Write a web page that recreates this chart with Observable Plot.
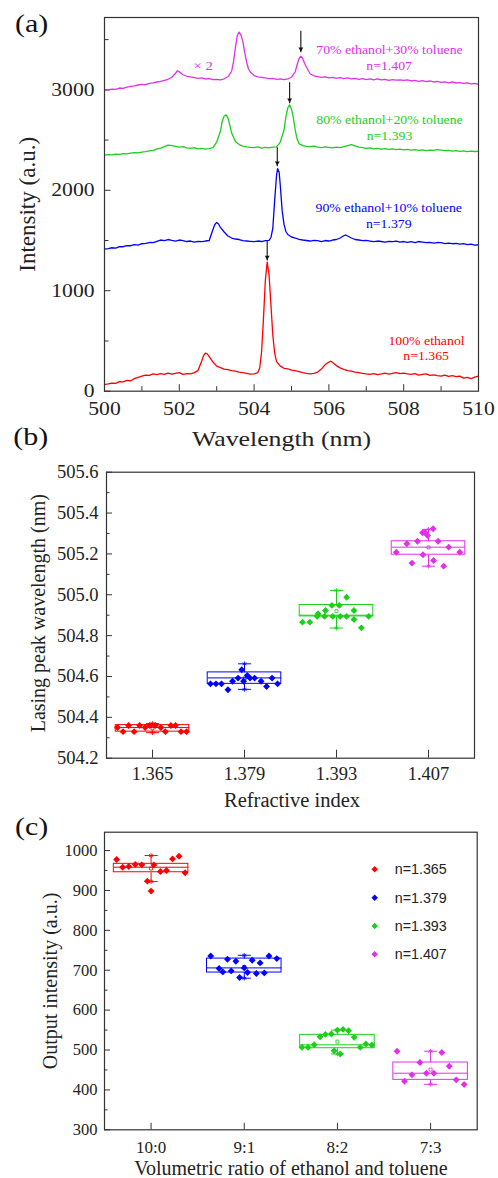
<!DOCTYPE html>
<html><head><meta charset="utf-8">
<script src="https://cdn.jsdelivr.net/npm/d3@7"></script>
<script src="https://cdn.jsdelivr.net/npm/@observablehq/plot@0.6"></script>
<style>
html,body{margin:0;padding:0;background:#fff;}
#wrap{position:relative;width:498px;height:1178px;overflow:hidden;background:#fff;}
</style></head><body><div id="wrap"></div>
<script>
// ---------------- DATA ----------------
const seriesColors = ["#ff0000", "#0000ff", "#1ccf1c", "#e030e8"];
const refractiveIndex = ["1.365", "1.379", "1.393", "1.407"];
const ratioLabels = ["10:0", "9:1", "8:2", "7:3"];

// Panel (a): spectra [wavelength nm, intensity a.u.]
const specRed = [[500.0,65],[500.1,72],[500.2,80],[500.3,78],[500.4,95],[500.5,92],[500.6,108],[500.7,104],[500.8,125],[500.9,138],
[501.0,150],[501.1,160],[501.2,158],[501.3,172],[501.4,165],[501.5,175],[501.6,168],[501.7,180],[501.8,170],[501.9,178],
[502.0,185],[502.1,168],[502.2,175],[502.3,172],[502.4,185],[502.5,205],[502.6,300],[502.65,355],[502.7,380],[502.75,370],
[502.8,345],[502.9,290],[503.0,250],[503.1,235],[503.2,220],[503.3,215],[503.4,205],[503.5,200],[503.6,190],[503.7,185],
[503.8,178],[503.9,170],[504.0,172],[504.1,185],[504.15,230],[504.2,390],[504.25,720],[504.3,1100],[504.35,1285],[504.4,1160],
[504.45,860],[504.5,560],[504.55,380],[504.6,295],[504.7,250],[504.8,228],[504.9,222],[505.0,210],[505.1,205],[505.2,195],
[505.3,185],[505.4,178],[505.5,172],[505.6,178],[505.7,190],[505.8,220],[505.9,265],[506.0,290],[506.05,298],[506.1,285],
[506.2,255],[506.3,232],[506.4,218],[506.5,205],[506.6,200],[506.7,190],[506.8,185],[506.9,178],[507.0,172],[507.1,168],
[507.2,175],[507.3,165],[507.4,172],[507.5,180],[507.6,170],[507.7,178],[507.8,185],[507.9,175],[508.0,180],[508.1,172],
[508.2,168],[508.3,175],[508.4,160],[508.5,168],[508.6,172],[508.7,158],[508.8,162],[508.9,155],[509.0,150],[509.1,160],
[509.2,148],[509.3,155],[509.4,145],[509.5,150],[509.6,130],[509.7,138],[509.8,125],[509.9,140],[510.0,150]];

const specBlue = [[500.0,1415],[500.1,1420],[500.2,1428],[500.3,1425],[500.4,1440],[500.5,1438],[500.6,1450],[500.7,1448],[500.8,1460],[500.9,1455],
[501.0,1468],[501.1,1472],[501.2,1480],[501.3,1478],[501.4,1492],[501.5,1505],[501.6,1498],[501.7,1510],[501.8,1502],[501.9,1495],
[502.0,1505],[502.1,1498],[502.2,1490],[502.3,1495],[502.4,1485],[502.5,1492],[502.6,1488],[502.7,1495],[502.8,1500],[502.9,1610],
[502.95,1660],[503.0,1680],[503.05,1665],[503.1,1630],[503.2,1585],[503.3,1545],[503.4,1525],[503.5,1515],[503.6,1510],[503.7,1498],
[503.8,1495],[503.9,1492],[504.0,1488],[504.1,1495],[504.2,1490],[504.3,1498],[504.4,1502],[504.45,1530],[504.5,1620],[504.55,1900],
[504.6,2150],[504.63,2215],[504.67,2180],[504.7,2050],[504.75,1800],[504.8,1660],[504.85,1590],[504.9,1560],[505.0,1535],[505.1,1525],
[505.2,1512],[505.3,1505],[505.4,1500],[505.5,1495],[505.6,1502],[505.7,1498],[505.8,1490],[505.9,1500],[506.0,1495],[506.1,1505],
[506.2,1510],[506.3,1525],[506.4,1548],[506.45,1555],[506.5,1545],[506.6,1525],[506.7,1510],[506.8,1505],[506.9,1498],[507.0,1502],
[507.1,1495],[507.2,1488],[507.3,1495],[507.4,1490],[507.5,1485],[507.6,1492],[507.7,1488],[507.8,1495],[507.9,1485],[508.0,1490],
[508.1,1482],[508.2,1488],[508.3,1480],[508.4,1490],[508.5,1485],[508.6,1478],[508.7,1482],[508.8,1475],[508.9,1480],[509.0,1478],
[509.1,1470],[509.2,1475],[509.3,1468],[509.4,1472],[509.5,1465],[509.6,1470],[509.7,1460],[509.8,1465],[509.9,1455],[510.0,1458]];

const specGreen = [[500.0,2350],[500.1,2355],[500.2,2352],[500.3,2360],[500.4,2358],[500.5,2365],[500.6,2362],[500.7,2370],[500.8,2375],[500.9,2372],
[501.0,2380],[501.1,2385],[501.2,2392],[501.3,2398],[501.4,2410],[501.5,2420],[501.6,2435],[501.7,2450],[501.8,2445],[501.9,2438],
[502.0,2430],[502.1,2435],[502.2,2422],[502.3,2418],[502.4,2425],[502.5,2412],[502.6,2418],[502.7,2410],[502.8,2415],[502.9,2425],
[503.0,2480],[503.1,2590],[503.15,2690],[503.2,2740],[503.25,2750],[503.3,2720],[503.35,2650],[503.4,2570],[503.5,2485],[503.6,2455],
[503.7,2440],[503.8,2432],[503.9,2428],[504.0,2425],[504.1,2432],[504.2,2420],[504.3,2428],[504.4,2422],[504.5,2430],[504.6,2432],
[504.7,2480],[504.8,2600],[504.85,2730],[504.9,2820],[504.95,2850],[505.0,2810],[505.05,2720],[505.1,2600],[505.15,2510],[505.2,2465],
[505.3,2445],[505.4,2438],[505.5,2435],[505.6,2440],[505.7,2430],[505.8,2425],[505.9,2432],[506.0,2428],[506.1,2422],[506.2,2430],
[506.3,2425],[506.4,2435],[506.5,2445],[506.6,2455],[506.7,2442],[506.8,2430],[506.9,2425],[507.0,2418],[507.1,2422],[507.2,2412],
[507.3,2418],[507.4,2410],[507.5,2415],[507.6,2408],[507.7,2412],[507.8,2405],[507.9,2410],[508.0,2402],[508.1,2408],[508.2,2400],
[508.3,2405],[508.4,2398],[508.5,2402],[508.6,2395],[508.7,2400],[508.8,2398],[508.9,2405],[509.0,2400],[509.1,2395],[509.2,2398],
[509.3,2390],[509.4,2395],[509.5,2388],[509.6,2392],[509.7,2385],[509.8,2390],[509.9,2386],[510.0,2388]];

const specMagenta = [[500.0,2995],[500.1,3000],[500.2,3008],[500.3,3005],[500.4,3018],[500.5,3015],[500.6,3028],[500.7,3035],[500.8,3040],[500.9,3048],
[501.0,3055],[501.1,3052],[501.2,3065],[501.3,3070],[501.4,3078],[501.5,3085],[501.6,3095],[501.7,3105],[501.8,3125],[501.9,3165],
[501.95,3190],[502.0,3180],[502.1,3150],[502.2,3135],[502.3,3128],[502.4,3122],[502.5,3115],[502.6,3118],[502.7,3108],[502.8,3112],
[502.9,3102],[503.0,3105],[503.1,3098],[503.2,3110],[503.3,3130],[503.4,3185],[503.45,3280],[503.5,3420],[503.55,3540],[503.6,3575],
[503.65,3545],[503.7,3480],[503.75,3370],[503.8,3275],[503.85,3210],[503.9,3175],[504.0,3142],[504.1,3130],[504.2,3125],[504.3,3118],
[504.4,3112],[504.5,3115],[504.6,3105],[504.7,3110],[504.8,3102],[504.9,3108],[505.0,3125],[505.1,3180],[505.15,3250],[505.2,3310],
[505.25,3335],[505.3,3310],[505.35,3265],[505.4,3225],[505.5,3160],[505.6,3140],[505.7,3132],[505.8,3125],[505.9,3130],[506.0,3120],
[506.1,3125],[506.2,3115],[506.3,3122],[506.4,3112],[506.5,3118],[506.6,3110],[506.7,3115],[506.8,3105],[506.9,3112],[507.0,3102],
[507.1,3110],[507.2,3100],[507.3,3108],[507.4,3098],[507.5,3105],[507.6,3095],[507.7,3102],[507.8,3096],[507.9,3100],[508.0,3095],
[508.1,3100],[508.2,3088],[508.3,3095],[508.4,3085],[508.5,3092],[508.6,3082],[508.7,3088],[508.8,3078],[508.9,3085],[509.0,3075],
[509.1,3080],[509.2,3070],[509.3,3078],[509.4,3068],[509.5,3072],[509.6,3065],[509.7,3070],[509.8,3060],[509.9,3065],[510.0,3055]];

const xTicksMajorA = [500, 502, 504, 506, 508, 510];
const xTicksMinorA = [501, 503, 505, 507, 509];
const yTicksMajorA = [0, 1000, 2000, 3000];
const yTicksMinorA = [500, 1500, 2500, 3500];

const arrowWavelength = [504.35, 504.62, 504.95, 505.25];
const arrowTop = [1499, 2428, 3075, 3589];
const arrowTip = [1300, 2239, 2866, 3373];

// Panel (b): lasing peak wavelength (nm), with horizontal jitter (fraction of category width)
const peakB = [
  [504.35,504.33,504.36,504.33,504.36,504.35,504.36,504.36,504.35,504.33,504.36,504.36,504.33,504.33],
  [504.564,504.564,504.564,504.535,504.577,504.592,504.633,504.577,504.605,504.592,504.592,504.577,504.551,504.592,504.564],
  [504.866,504.866,504.894,504.907,504.894,504.923,504.948,504.894,504.948,504.894,504.894,504.988,504.923,504.879,504.838,504.894],
  [505.208,505.25,505.155,505.262,505.303,505.196,505.306,505.29,505.323,505.168,505.262,505.14,505.233,505.208]
];
const jitterB = [
  [-0.38,-0.32,-0.26,-0.20,-0.14,-0.08,-0.03,0.03,0.09,0.14,0.20,0.25,0.31,0.37],
  [-0.37,-0.31,-0.25,-0.18,-0.13,-0.07,-0.03,-0.01,0.03,0.06,0.11,0.18,0.24,0.30,0.36],
  [-0.37,-0.29,-0.21,-0.20,-0.13,-0.12,-0.05,-0.04,0.03,0.04,0.11,0.11,0.19,0.19,0.27,0.35],
  [-0.35,-0.235,-0.18,-0.12,-0.065,-0.06,-0.04,-0.01,0.05,0.055,0.105,0.165,0.22,0.34]
];
const boxB_q1 = [504.33, 504.564, 504.894, 505.196];
const boxB_med = [504.35, 504.593, 504.90, 505.233];
const boxB_q3 = [504.362, 504.62, 504.95, 505.262];
const boxB_mean = [504.347, 504.59, 504.92, 505.232];
const boxB_lo = [504.325, 504.537, 504.837, 505.14];
const boxB_hi = [504.37, 504.662, 505.021, 505.32];
const yTicksMajorB = [504.2, 504.4, 504.6, 504.8, 505.0, 505.2, 505.4, 505.6];
const yTicksMinorB = [504.3, 504.5, 504.7, 504.9, 505.1, 505.3, 505.5];

// Panel (c): output intensity (a.u.)
const intensityC = [
  [977.5,958.3,960,965,964.2,923.3,898.3,964,947.5,950,979,985.8,944.2],
  [735.8,704.2,695.8,727.5,698.3,722.5,681.7,705.8,694.2,725,691.7,718.3,693.3,735.8,729.2],
  [506.7,506.7,513.3,533.3,539.2,540,498.3,550,490,551.7,548.3,531.7,506.7,515,512.5],
  [497,421.8,437.8,468.7,441.9,441.9,493.7,459.4,425.2,413.5]
];
const jitterC = [
  [-0.37,-0.305,-0.24,-0.17,-0.10,-0.04,0,0.03,0.10,0.165,0.23,0.30,0.365],
  [-0.36,-0.27,-0.23,-0.18,-0.14,-0.09,-0.05,0,0.035,0.085,0.13,0.17,0.215,0.265,0.35],
  [-0.38,-0.315,-0.25,-0.186,-0.13,-0.065,-0.035,0,0.03,0.06,0.12,0.18,0.245,0.305,0.37],
  [-0.36,-0.28,-0.2,-0.115,-0.045,0.035,0.12,0.2,0.275,0.36]
];
const boxC_q1 = [945.6, 694.2, 504.5, 425.2];
const boxC_med = [958.2, 705.8, 513, 441.9];
const boxC_q3 = [966.7, 729.2, 538, 468.7];
const boxC_mean = [955, 708, 521, 451];
const boxC_lo = [922.3, 680, 490, 414];
const boxC_hi = [987.5, 737.5, 550, 497];
const yTicksMajorC = [300, 400, 500, 600, 700, 800, 900, 1000];
const yTicksMinorC = [350, 450, 550, 650, 750, 850, 950];

// ---------------- HELPERS ----------------
const SERIF = "Liberation Serif, Times New Roman, serif";
const SANS = "Liberation Sans, Arial, sans-serif";
const AX = "#333";
const wrap = document.getElementById("wrap");
function place(svg, top) {
  svg.style.position = "absolute";
  svg.style.left = "0px";
  svg.style.top = top + "px";
  svg.style.maxWidth = "none";
  svg.style.overflow = "visible";
  wrap.appendChild(svg);
}
function stretchText(svg, k) {
  svg.querySelectorAll("text").forEach(t => {
    const tr = t.getAttribute("transform") || "";
    if (tr.includes("rotate")) return;
    if (tr) t.setAttribute("transform", tr + ` scale(${k},1)`);
    else {
      const x = +(t.getAttribute("x") || 0);
      t.setAttribute("transform", `translate(${x},0) scale(${k},1) translate(${-x},0)`);
    }
  });
}
const cats = refractiveIndex.map((_, i) => i + 1);
function boxTable(q1, med, q3, mean, lo, hi) {
  return refractiveIndex.map((n, i) => ({n, c: i + 1, q1: q1[i], med: med[i], q3: q3[i], mean: mean[i], lo: lo[i], hi: hi[i]}));
}
function pointTable(vals, jit) {
  const out = [];
  vals.forEach((arr, g) => arr.forEach((v, j) => out.push({n: refractiveIndex[g], x: g + 1 + jit[g][j], y: v})));
  return out;
}
function boxMarks(tab) {
  return [
    Plot.link(tab, {x1: "c", x2: "c", y1: "q3", y2: "hi", stroke: "n", strokeWidth: 1}),
    Plot.link(tab, {x1: "c", x2: "c", y1: "lo", y2: "q1", stroke: "n", strokeWidth: 1}),
    Plot.link(tab, {x1: d => d.c - 0.07, x2: d => d.c + 0.07, y1: "hi", y2: "hi", stroke: "n", strokeWidth: 1}),
    Plot.link(tab, {x1: d => d.c - 0.07, x2: d => d.c + 0.07, y1: "lo", y2: "lo", stroke: "n", strokeWidth: 1}),
    Plot.dot(tab, {x: "c", y: "hi", symbol: "asterisk", r: 2.2, stroke: "n", strokeWidth: 0.8}),
    Plot.dot(tab, {x: "c", y: "lo", symbol: "asterisk", r: 2.2, stroke: "n", strokeWidth: 0.8}),
    Plot.rect(tab, {x1: d => d.c - 0.4, x2: d => d.c + 0.4, y1: "q1", y2: "q3", stroke: "n", fill: "none", strokeWidth: 1}),
    Plot.link(tab, {x1: d => d.c - 0.4, x2: d => d.c + 0.4, y1: "med", y2: "med", stroke: "n", strokeWidth: 1}),
    Plot.dot(tab, {x: "c", y: "mean", symbol: "square", r: 1.7, stroke: "n", fill: "none", strokeWidth: 0.8})
  ];
}
const titleX = (t, dy, dx, fs) => Plot.text([t], {text: d => d, frameAnchor: "bottom", lineAnchor: "middle", textAnchor: "middle", dy, dx, fontSize: fs, fill: "#222"});
const titleY = (t, dx, dy, fs) => Plot.text([t], {text: d => d, frameAnchor: "left", rotate: -90, lineAnchor: "middle", textAnchor: "middle", dx, dy, fontSize: fs, fill: "#222"});

// ---------------- PANEL A ----------------
const fwA = 374, fhA = 373.7;
const annotations = [
  {t: "70% ethanol+30% toluene", x: 507.62, y: 3395, c: 3},
  {t: "n=1.407", x: 507.61, y: 3230, c: 3},
  {t: "80% ethanol+20% toluene", x: 507.62, y: 2698, c: 2},
  {t: "n=1.393", x: 507.62, y: 2539, c: 2},
  {t: "90% ethanol+10% toluene", x: 507.6, y: 1819, c: 1},
  {t: "n=1.379", x: 507.6, y: 1660, c: 1},
  {t: "100% ethanol", x: 508.61, y: 500, c: 0},
  {t: "n=1.365", x: 508.6, y: 343, c: 0}
];
const plotA = Plot.plot({
  width: 498, height: 455, marginLeft: 104, marginRight: 20, marginTop: 17, marginBottom: 64.3,
  x: {domain: [500, 510]}, y: {domain: [0, 3720]},
  style: {fontFamily: SERIF, color: "#222", background: "transparent"},
  marks: [
    Plot.ruleY(yTicksMajorA, {insetRight: fwA - 6.5, stroke: AX}),
    Plot.ruleY(yTicksMinorA, {insetRight: fwA - 4.5, stroke: AX}),
    Plot.ruleX(xTicksMajorA, {insetTop: fhA - 6.5, stroke: AX}),
    Plot.ruleX(xTicksMinorA, {insetTop: fhA - 4.5, stroke: AX}),
    Plot.axisY(yTicksMajorA, {tickSize: 0, tickPadding: 10, fontSize: 18, tickFormat: d => String(d), label: null}),
    Plot.axisX(xTicksMajorA, {tickSize: 0, tickPadding: 11, fontSize: 18, tickFormat: d => String(d), label: null}),
    Plot.line(specRed, {x: d => d[0], y: d => d[1], stroke: seriesColors[0], strokeWidth: 1.3}),
    Plot.line(specBlue, {x: d => d[0], y: d => d[1], stroke: seriesColors[1], strokeWidth: 1.3}),
    Plot.line(specGreen, {x: d => d[0], y: d => d[1], stroke: seriesColors[2], strokeWidth: 1.3}),
    Plot.line(specMagenta, {x: d => d[0], y: d => d[1], stroke: seriesColors[3], strokeWidth: 1.3}),
    Plot.link(arrowWavelength, {x1: d => d, x2: d => d, y1: (d, i) => arrowTop[i], y2: (d, i) => arrowTip[i], stroke: "#111", strokeWidth: 1.1}),
    Plot.dot(arrowWavelength, {x: d => d, y: (d, i) => arrowTip[i], symbol: "triangle2", rotate: 180, r: 2.3, fill: "#111", dy: -3.4}),
    Plot.text(annotations, {x: "x", y: "y", text: "t", fill: d => seriesColors[d.c], fontSize: 11.5}),
    Plot.text(["× 2"], {x: 502.64, y: 3236, text: d => d, fill: seriesColors[3], fontSize: 12.5}),
    titleX("Wavelength (nm)", 48.1, -10, 21.5),
    titleY("Intensity (a.u.)", -76.4, 0, 23),
    Plot.frame({stroke: AX, strokeWidth: 1.2})
  ]
});
stretchText(plotA, 1.2);
place(plotA, 0);

// ---------------- PANEL B ----------------
const fwB = 368, fhB = 286;
const plotB = Plot.plot({
  width: 498, height: 355, marginLeft: 106, marginRight: 24, marginTop: 16.7, marginBottom: 52.3,
  x: {domain: [0.5, 4.5]}, y: {domain: [504.2, 505.6]},
  color: {domain: refractiveIndex, range: seriesColors},
  style: {fontFamily: SERIF, color: "#222", background: "transparent"},
  marks: [
    Plot.ruleY(yTicksMajorB, {insetRight: fwB - 6, stroke: AX}),
    Plot.ruleY(yTicksMinorB, {insetRight: fwB - 3.5, stroke: AX}),
    Plot.ruleX(cats, {insetTop: fhB - 8, stroke: AX}),
    Plot.axisY(yTicksMajorB, {tickSize: 0, tickPadding: 8, fontSize: 18.5, tickFormat: d => d.toFixed(1), label: null}),
    Plot.axisX(cats, {tickSize: 0, tickPadding: 9, fontSize: 18.5, tickFormat: d => refractiveIndex[d - 1], label: null}),
    ...boxMarks(boxTable(boxB_q1, boxB_med, boxB_q3, boxB_mean, boxB_lo, boxB_hi)),
    Plot.dot(pointTable(peakB, jitterB), {x: "x", y: "y", symbol: "diamond2", r: 3.1, fill: "n"}),
    titleX("Refractive index", 41.9, 1.5, 20.5),
    titleY("Lasing peak wavelength (nm)", -67.5, -2, 20),
    Plot.frame({stroke: AX, strokeWidth: 1.2})
  ]
});
place(plotB, 455);

// ---------------- PANEL C ----------------
const fwC = 372.7, fhC = 297.6;
const plotC = Plot.plot({
  width: 498, height: 368, marginLeft: 104, marginRight: 21.3, marginTop: 21.7, marginBottom: 48.7,
  x: {domain: [0.5, 4.5]}, y: {domain: [300, 1046]},
  color: {domain: refractiveIndex, range: seriesColors},
  style: {fontFamily: SERIF, color: "#222", background: "transparent"},
  marks: [
    Plot.ruleY(yTicksMajorC, {insetRight: fwC - 6, stroke: AX}),
    Plot.ruleY(yTicksMinorC, {insetRight: fwC - 3.5, stroke: AX}),
    Plot.ruleX(cats, {insetTop: fhC - 6.5, stroke: AX}),
    Plot.axisY(yTicksMajorC, {tickSize: 0, tickPadding: 7, fontSize: 16.5, tickFormat: d => String(d), label: null}),
    Plot.axisX(cats, {tickSize: 0, tickPadding: 10.7, fontSize: 17, tickFormat: d => ratioLabels[d - 1], label: null}),
    ...boxMarks(boxTable(boxC_q1, boxC_med, boxC_q3, boxC_mean, boxC_lo, boxC_hi)),
    Plot.dot(pointTable(intensityC, jitterC), {x: "x", y: "y", symbol: "diamond2", r: 3.1, fill: "n"}),
    titleX("Volumetric ratio of ethanol and toluene", 38.3, 0, 20),
    titleY("Output intensity (a.u.)", -54.4, 0, 20),
    Plot.frame({stroke: AX, strokeWidth: 1.2})
  ]
});
place(plotC, 810);

// ---------------- OVERLAY: panel letters + legend of (c) ----------------
const ov = d3.create("svg").attr("width", 498).attr("height", 1178)
  .style("position", "absolute").style("left", "0px").style("top", "0px").style("pointer-events", "none");
[["(a)", 15, 32], ["(b)", 13.3, 445], ["(c)", 15, 835]].forEach(([t, x, y]) => {
  ov.append("text").attr("transform", `translate(${x},${y}) scale(1.2,1)`)
    .attr("font-family", SERIF).attr("font-size", 25).attr("fill", "#111").text(t);
});
const diamond = d3.symbol(d3.symbolDiamond2, 27)();
refractiveIndex.forEach((n, i) => {
  const y = 869.3 + i * 28.35;
  ov.append("path").attr("d", diamond).attr("transform", `translate(374.7,${y})`).attr("fill", seriesColors[i]);
  ov.append("text").attr("x", 394.7).attr("y", y + 5).attr("font-family", SANS)
    .attr("font-size", 14.3).attr("fill", "#222").text("n=" + n);
});
wrap.appendChild(ov.node());
</script></body></html>
